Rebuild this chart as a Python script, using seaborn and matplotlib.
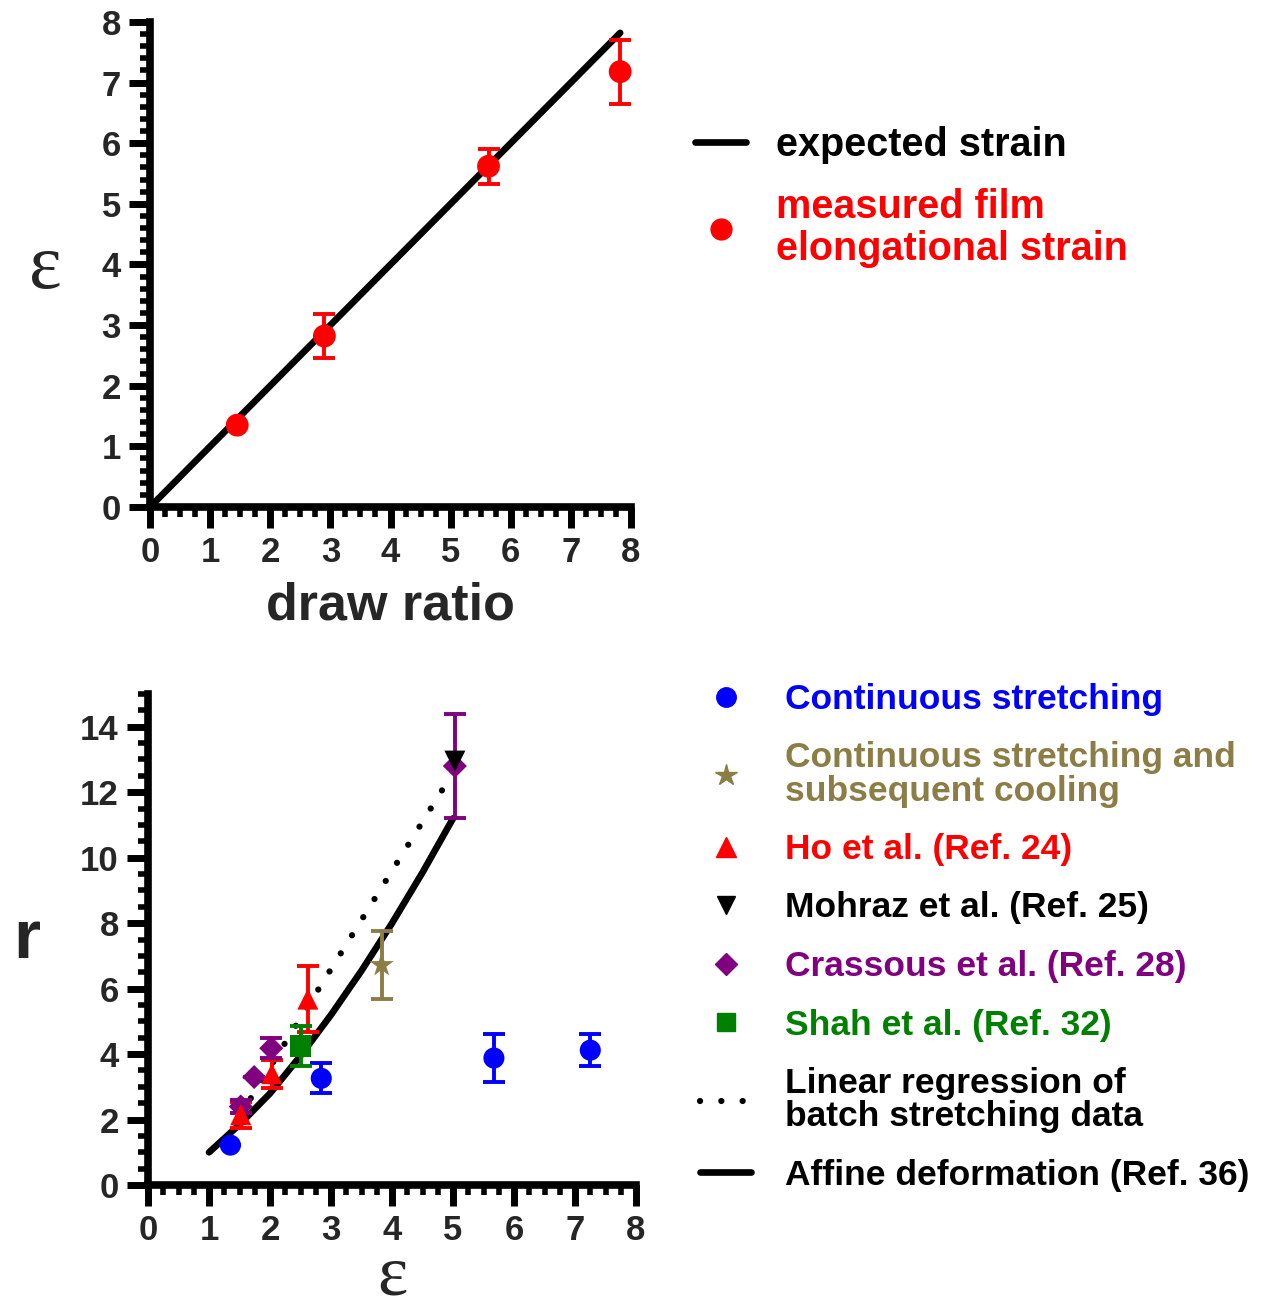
import matplotlib
matplotlib.use("Agg")
import matplotlib.pyplot as plt
from matplotlib.lines import Line2D
from matplotlib.ticker import MultipleLocator
import seaborn as sns

# top panel: film strain vs draw ratio
draw_ratio = [1.45, 2.9, 5.63, 7.82]
film_strain = [1.35, 2.82, 5.62, 7.18]
film_strain_err = [0.0, 0.37, 0.29, 0.53]
expected_x = [0.0, 7.82]
expected_y = [0.0, 7.82]

# bottom panel: aspect ratio r vs strain
cont_eps = [1.35, 2.84, 5.67, 7.25]
cont_r = [1.22, 3.26, 3.88, 4.12]
cont_err = [0.0, 0.46, 0.72, 0.48]

cool_eps = [3.83]
cool_r = [6.72]
cool_err = [1.03]

ho_eps = [1.52, 2.03, 2.62]
ho_r = [2.15, 3.4, 5.68]
ho_err = [0.4, 0.42, 1.0]

mohraz_eps = [5.03]
mohraz_r = [12.95]

crassous_eps = [1.52, 1.74, 2.02, 5.03]
crassous_r = [2.4, 3.3, 4.18, 12.8]
crassous_err = [0.2, 0.0, 0.3, 1.6]

shah_eps = [2.5]
shah_r = [4.25]
shah_err = [0.6]

regression_eps = [1.5, 5.0]
regression_r = [2.1, 12.6]

affine_eps = [1.0, 1.5, 2.0, 2.5, 3.0, 3.5, 4.0, 4.5, 5.0]
affine_r = [1.0, 1.85, 2.8, 3.95, 5.2, 6.55, 8.0, 9.55, 11.2]

BLUE = "#0000ff"
OLIVE = "#8b7d45"
RED = "#ff0000"
PURPLE = "#800080"
GREEN = "#008000"

sns.set_style("ticks")
plt.rcParams["font.family"] = ["Liberation Sans", "DejaVu Sans"]
plt.rcParams["font.weight"] = "bold"

fig = plt.figure(figsize=(12.63, 13.06), dpi=100)
ax1 = fig.add_axes([0.1188, 0.6118, 0.3808, 0.3714])
ax2 = fig.add_axes([0.1172, 0.0926, 0.3864, 0.3760])

DOTS = (0, (0.01, 3.4))


def style_axis(ax, xminor, yminor):
    for side in ["top", "right"]:
        ax.spines[side].set_visible(False)
    for side in ["left", "bottom"]:
        ax.spines[side].set_linewidth(5.5)
        ax.spines[side].set_color("black")
    ax.xaxis.set_minor_locator(MultipleLocator(xminor))
    ax.yaxis.set_minor_locator(MultipleLocator(yminor))
    ax.tick_params(which="major", direction="out", length=15, width=5,
                   labelsize=25, pad=6, color="black")
    ax.tick_params(which="minor", direction="out", length=7.5, width=4, color="black")
    for lab in ax.get_xticklabels() + ax.get_yticklabels():
        lab.set_fontweight("bold")


# ---- top panel
sns.lineplot(x=expected_x, y=expected_y, color="black", linewidth=4.8,
             estimator=None, sort=False, ax=ax1, zorder=2)
ax1.errorbar(draw_ratio, film_strain, yerr=film_strain_err, fmt="none",
             ecolor=RED, elinewidth=2.8, capsize=8, capthick=2.8, zorder=3)
sns.scatterplot(x=draw_ratio, y=film_strain, color=RED, s=270, marker="o",
                edgecolor="none", ax=ax1, zorder=4, clip_on=False)

ax1.set_xlim(0, 8)
ax1.set_ylim(0, 8)
ax1.set_xticks(range(0, 9))
ax1.set_yticks(range(0, 9))
style_axis(ax1, 0.25, 0.2)

ax1.set_xlabel("draw ratio", fontsize=37.5, fontweight="bold", va="center")
ax1.xaxis.set_label_coords(0.5, -0.205)
ax1.set_ylabel("ε", fontsize=56, family="Liberation Serif", fontweight="normal",
               rotation=0, ha="center", va="center")
ax1.yaxis.set_label_coords(-0.218, 0.49)

top_handles = [
    Line2D([0], [0], color="black", lw=4.8),
    Line2D([0], [0], color=RED, marker="o", markersize=15, lw=0),
]
leg1 = ax1.legend(top_handles, ["expected strain", "measured film\nelongational strain"],
                  loc="upper left", bbox_to_anchor=(695 / 1263, 1 - 126 / 1306),
                  bbox_transform=fig.transFigure, frameon=False, borderpad=0,
                  borderaxespad=0, handlelength=1.3, handletextpad=0.75,
                  labelspacing=0.6, labelcolor=["black", RED],
                  prop={"size": 28.5, "weight": "bold"})
for t in leg1.get_texts():
    t.set_linespacing(1.15)

# ---- bottom panel
sns.lineplot(x=affine_eps, y=affine_r, color="black", linewidth=4.8,
             estimator=None, sort=False, ax=ax2, zorder=2)
sns.lineplot(x=regression_eps, y=regression_r, color="black", linewidth=4.5,
             linestyle=DOTS, dash_capstyle="round",
             estimator=None, sort=False, ax=ax2, zorder=2)

err_sets = [
    (cont_eps, cont_r, cont_err, BLUE),
    (cool_eps, cool_r, cool_err, OLIVE),
    (ho_eps, ho_r, ho_err, RED),
    (crassous_eps, crassous_r, crassous_err, PURPLE),
    (shah_eps, shah_r, shah_err, GREEN),
]
for xs, ys, es, c in err_sets:
    ax2.errorbar(xs, ys, yerr=es, fmt="none", ecolor=c, elinewidth=2.8,
                 capsize=8, capthick=2.8, zorder=3)

mark_sets = [
    (crassous_eps, crassous_r, PURPLE, "D", 150),
    (shah_eps, shah_r, GREEN, "s", 240),
    (cool_eps, cool_r, OLIVE, "*", 340),
    (ho_eps, ho_r, RED, "^", 230),
    (mohraz_eps, mohraz_r, "black", "v", 230),
    (cont_eps, cont_r, BLUE, "o", 230),
]
for xs, ys, c, m, s in mark_sets:
    sns.scatterplot(x=xs, y=ys, color=c, marker=m, s=s, edgecolor="none",
                    ax=ax2, zorder=4)

ax2.set_xlim(0, 8)
ax2.set_ylim(0, 15)
ax2.set_xticks(range(0, 9))
ax2.set_yticks(range(0, 15, 2))
style_axis(ax2, 0.25, 0.5)

ax2.set_xlabel("ε", fontsize=52, family="Liberation Serif", fontweight="normal",
               va="center")
ax2.xaxis.set_label_coords(0.5, -0.187)
ax2.set_ylabel("r", fontsize=50, fontweight="bold", rotation=0,
               ha="center", va="center")
ax2.yaxis.set_label_coords(-0.248, 0.5)

bottom_handles = [
    Line2D([0], [0], color=BLUE, marker="o", markersize=14, lw=0),
    Line2D([0], [0], color=OLIVE, marker="*", markersize=16, lw=0),
    Line2D([0], [0], color=RED, marker="^", markersize=14, lw=0),
    Line2D([0], [0], color="black", marker="v", markersize=13, lw=0),
    Line2D([0], [0], color=PURPLE, marker="D", markersize=11, lw=0),
    Line2D([0], [0], color=GREEN, marker="s", markersize=13, lw=0),
    Line2D([0], [0], color="black", lw=4.5, linestyle=DOTS, dash_capstyle="round"),
    Line2D([0], [0], color="black", lw=4.8),
]
bottom_labels = [
    "Continuous stretching",
    "Continuous stretching and\nsubsequent cooling",
    "Ho et al. (Ref. 24)",
    "Mohraz et al. (Ref. 25)",
    "Crassous et al. (Ref. 28)",
    "Shah et al. (Ref. 32)",
    "Linear regression of\nbatch stretching data",
    "Affine deformation (Ref. 36)",
]
bottom_colors = [BLUE, OLIVE, RED, "black", PURPLE, GREEN, "black", "black"]
leg2 = ax2.legend(bottom_handles, bottom_labels, loc="upper left",
                  bbox_to_anchor=(700 / 1263, 1 - 683 / 1306),
                  bbox_transform=fig.transFigure, frameon=False, borderpad=0,
                  borderaxespad=0, handlelength=1.45, handletextpad=0.95,
                  labelspacing=0.72, labelcolor=bottom_colors,
                  prop={"size": 25.5, "weight": "bold"})
for t in leg2.get_texts():
    t.set_linespacing(1.0)

fig.savefig("out.png", dpi=100, facecolor="white")
plt.close(fig)
